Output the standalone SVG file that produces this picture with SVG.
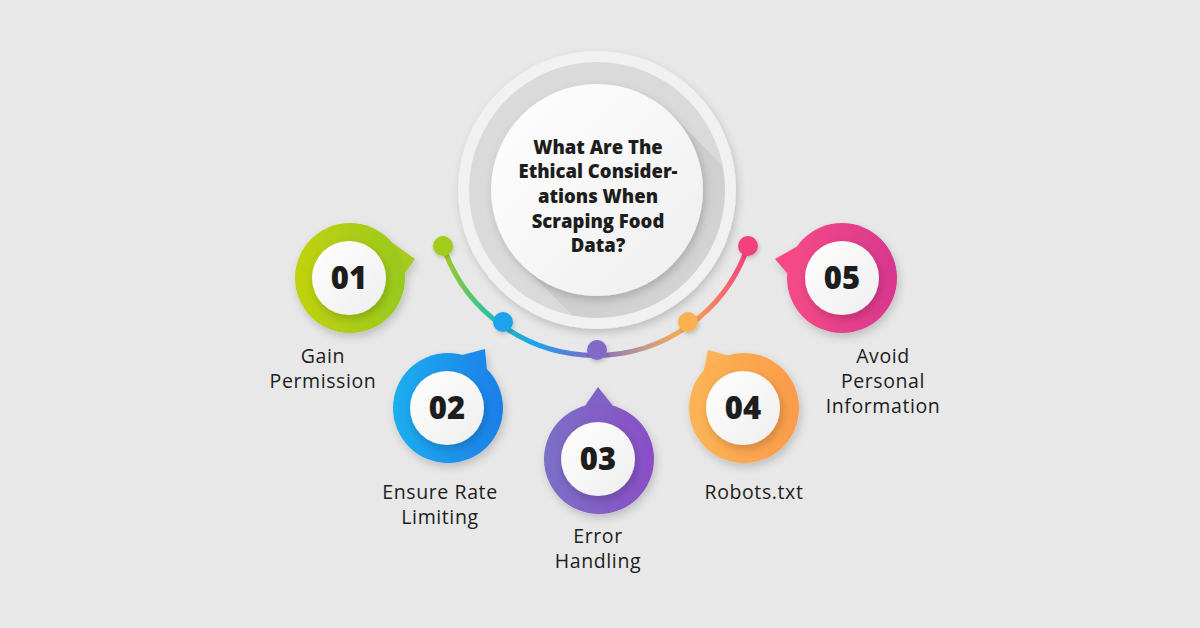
<svg xmlns="http://www.w3.org/2000/svg" width="1200" height="628" viewBox="0 0 1200 628">
<defs>
<style>
.num{font-family:"Open Sans","Liberation Sans",sans-serif;font-weight:800;font-size:31px;fill:#1d1d1d;text-anchor:middle}
.lbl{font-family:"Open Sans","Liberation Sans",sans-serif;font-weight:500;font-size:19.5px;letter-spacing:0.6px;fill:#1d1d1d;text-anchor:middle}
.ttl{font-family:"Open Sans","Liberation Sans",sans-serif;font-weight:800;font-size:18.5px;fill:#1d1d1d;text-anchor:middle}
.inner{fill:url(#gWhite)}
</style>
<filter id="sh" x="-30%" y="-30%" width="160%" height="160%">
<feDropShadow dx="2" dy="4" stdDeviation="4" flood-color="#000" flood-opacity="0.18"/>
</filter>
<filter id="shs" x="-50%" y="-50%" width="200%" height="200%">
<feDropShadow dx="1" dy="2" stdDeviation="2" flood-color="#000" flood-opacity="0.2"/>
</filter>
<linearGradient id="gWhite" x1="0" y1="0" x2="1" y2="1"><stop offset="0" stop-color="#ffffff"/><stop offset="1" stop-color="#eeeeee"/></linearGradient>
<linearGradient id="g1" x1="0" y1="0" x2="1" y2="0"><stop offset="0" stop-color="#c2d10e"/><stop offset="1" stop-color="#98ca1d"/></linearGradient>
<linearGradient id="g2" x1="0" y1="0" x2="1" y2="0"><stop offset="0" stop-color="#1caeee"/><stop offset="1" stop-color="#1a7ee8"/></linearGradient>
<linearGradient id="g3" x1="0" y1="0" x2="1" y2="0"><stop offset="0" stop-color="#7b70c6"/><stop offset="1" stop-color="#8a4ec6"/></linearGradient>
<linearGradient id="g4" x1="0" y1="0" x2="1" y2="0"><stop offset="0" stop-color="#fdb455"/><stop offset="1" stop-color="#fa9b4a"/></linearGradient>
<linearGradient id="g5" x1="0" y1="0" x2="1" y2="0"><stop offset="0" stop-color="#f64a86"/><stop offset="1" stop-color="#d8378f"/></linearGradient>
<linearGradient id="gArc" gradientUnits="userSpaceOnUse" x1="443" y1="0" x2="748" y2="0">
<stop offset="0" stop-color="#a4cc1a"/><stop offset="0.14" stop-color="#2ec49a"/><stop offset="0.3" stop-color="#1aa3ec"/><stop offset="0.5" stop-color="#8367c7"/><stop offset="0.66" stop-color="#c49a8a"/><stop offset="0.8" stop-color="#fbae50"/><stop offset="1" stop-color="#f43f7c"/>
</linearGradient>
<linearGradient id="gLong" gradientUnits="userSpaceOnUse" x1="560" y1="150" x2="760" y2="350">
<stop offset="0" stop-color="#c4c4c4"/><stop offset="1" stop-color="#d4d4d4" stop-opacity="0.3"/>
</linearGradient>
<clipPath id="clipGray"><circle cx="597" cy="190" r="128"/></clipPath>
</defs>
<rect width="1200" height="628" fill="#e8e8e8"/>

<g id="center">
<circle cx="597" cy="190" r="139" fill="#f1f1f1" filter="url(#sh)"/>
<circle cx="597" cy="190" r="128" fill="#dadada"/>
<g clip-path="url(#clipGray)">
<polygon points="672,115 522,265 722,465 872,315" fill="url(#gLong)"/>
</g>
<circle cx="597" cy="190" r="106" class="inner" filter="url(#sh)"/>
<text class="ttl" x="598" y="154">What Are The</text>
<text class="ttl" x="598" y="178">Ethical Consider-</text>
<text class="ttl" x="598" y="203">ations When</text>
<text class="ttl" x="598" y="228">Scraping Food</text>
<text class="ttl" x="598" y="252">Data?</text>
</g>

<g id="connectors">
<path d="M 443 246 A 161 161 0 0 0 748 246" fill="none" stroke="url(#gArc)" stroke-width="5" stroke-linecap="round"/>
<circle cx="443" cy="246" r="10" fill="#a4cc1a" filter="url(#shs)"/>
<circle cx="503" cy="322" r="10" fill="#1aa3ec" filter="url(#shs)"/>
<circle cx="597" cy="350" r="10" fill="#8367c7" filter="url(#shs)"/>
<circle cx="688" cy="322" r="10" fill="#fbb04f" filter="url(#shs)"/>
<circle cx="748" cy="246" r="10" fill="#f43f7c" filter="url(#shs)"/>
</g>

<g id="node01">
<g filter="url(#sh)">
<path d="M392.1 242.6 L415 259 L404.8 273.2 Z" fill="#a7cc1a"/>
<circle cx="350" cy="278" r="55" fill="url(#g1)"/>
</g>
<circle cx="349" cy="278" r="37" class="inner" filter="url(#sh)"/>
<text class="num" x="349" y="289">01</text>
<text class="lbl" x="323" y="363">Gain</text>
<text class="lbl" x="323" y="388">Permission</text>
</g>

<g id="node02">
<g filter="url(#sh)">
<path d="M462.2 354.9 L485 349 L486.9 369.1 Z" fill="#1a8aea"/>
<circle cx="448" cy="408" r="55" fill="url(#g2)"/>
</g>
<circle cx="447" cy="408" r="37" class="inner" filter="url(#sh)"/>
<text class="num" x="447" y="419">02</text>
<text class="lbl" x="440" y="499">Ensure Rate</text>
<text class="lbl" x="440" y="524">Limiting</text>
</g>

<g id="node03">
<g filter="url(#sh)">
<path d="M584.8 405.9 L598 387 L613.2 405.9 Z" fill="#8064c6"/>
<circle cx="599" cy="459" r="55" fill="url(#g3)"/>
</g>
<circle cx="598" cy="459" r="37" class="inner" filter="url(#sh)"/>
<text class="num" x="598" y="470">03</text>
<text class="lbl" x="598" y="543">Error</text>
<text class="lbl" x="598" y="568">Handling</text>
</g>

<g id="node04">
<g filter="url(#sh)">
<path d="M703.8 370.5 L708 350 L727.9 355.4 Z" fill="#fdb254"/>
<circle cx="744" cy="408" r="55" fill="url(#g4)"/>
</g>
<circle cx="743" cy="408" r="37" class="inner" filter="url(#sh)"/>
<text class="num" x="743" y="419">04</text>
<text class="lbl" x="754" y="499">Robots.txt</text>
</g>

<g id="node05">
<g filter="url(#sh)">
<path d="M787.2 273.2 L775 259 L797 246.4 Z" fill="#f54887"/>
<circle cx="842" cy="278" r="55" fill="url(#g5)"/>
</g>
<circle cx="842" cy="278" r="37" class="inner" filter="url(#sh)"/>
<text class="num" x="842" y="289">05</text>
<text class="lbl" x="883" y="363">Avoid</text>
<text class="lbl" x="883" y="388">Personal</text>
<text class="lbl" x="883" y="413">Information</text>
</g>
</svg>
